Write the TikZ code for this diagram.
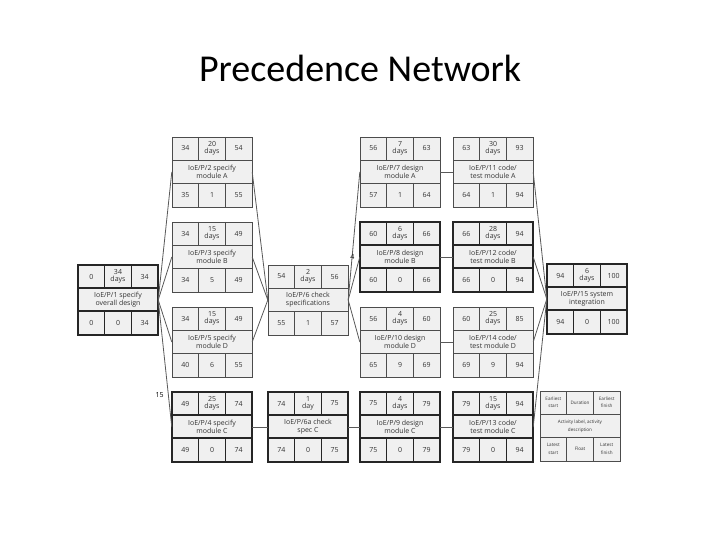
\documentclass[tikz,border=0pt]{standalone}
\usepackage{fontspec}
\setmainfont{Open Sans}
\newfontfamily\titlefont{Carlito}
\newcommand\legf{\fontsize{4.6}{5.2}\selectfont}
\begin{document}
\begin{tikzpicture}[x=1pt,y=-1pt,
  conn/.style={draw=black!65,line width=0.8pt},
  thin box/.style={draw=black!70,line width=0.7pt},
  crit box/.style={draw=black!85,line width=1.5pt},
  cell/.style={font=\fontsize{7}{7.5}\selectfont,text=black!80,align=center,inner sep=0pt},
  lab/.style={font=\fontsize{7}{8}\selectfont,text=black!80,align=center,inner sep=0pt}]
\useasboundingbox (0,0) rectangle (720,540);
\node[font=\titlefont\fontsize{38}{44}\selectfont] (title) at (360,68) {Precedence Network};
\newcommand\actbox[9]{%
  \node[rectangle,fill=black!6,minimum width=80pt,minimum height=70pt,inner sep=0pt] (#1) at (#2,#3) {};
  \draw[#1style] (#2-40,#3-35) rectangle (#2+40,#3+35)
     (#2-40,#3-12) -- (#2+40,#3-12) (#2-40,#3+11) -- (#2+40,#3+11)
     (#2-13.3,#3-35) -- (#2-13.3,#3-12) (#2+13.3,#3-35) -- (#2+13.3,#3-12)
     (#2-13.3,#3+11) -- (#2-13.3,#3+35) (#2+13.3,#3+11) -- (#2+13.3,#3+35);
  \node[cell] at (#2-26.7,#3-23.5) {#4};
  \node[cell] at (#2,#3-23.5) {#5};
  \node[cell] at (#2+26.7,#3-23.5) {#6};
  \node[lab] at (#2,#3) {#7};
  \node[cell] at (#2-26.7,#3+23) {#8};
  \node[cell] at (#2,#3+23) {#9};
}
\newcommand\lf[3]{\node[cell] at (#1+26.7,#2+23) {#3};}
\tikzset{%
 n1style/.style={crit box}, n2style/.style={thin box}, n3style/.style={thin box},
 n5style/.style={thin box}, n4style/.style={crit box}, n6style/.style={thin box},
 n6astyle/.style={crit box}, n7style/.style={thin box}, n8style/.style={crit box},
 n10style/.style={thin box}, n9style/.style={crit box}, n11style/.style={thin box},
 n12style/.style={crit box}, n14style/.style={thin box}, n13style/.style={crit box},
 n15style/.style={crit box}, legstyle/.style={thin box}}
\actbox{n1}{118}{300}{0}{34\\days}{34}{IoE/P/1 specify\\overall design}{0}{0}\lf{118}{300}{34}
\actbox{n2}{212}{172}{34}{20\\days}{54}{IoE/P/2 specify\\module A}{35}{1}\lf{212}{172}{55}
\actbox{n3}{212}{257}{34}{15\\days}{49}{IoE/P/3 specify\\module B}{34}{5}\lf{212}{257}{49}
\actbox{n5}{212}{342}{34}{15\\days}{49}{IoE/P/5 specify\\module D}{40}{6}\lf{212}{342}{55}
\actbox{n4}{212}{427}{49}{25\\days}{74}{IoE/P/4 specify\\module C}{49}{0}\lf{212}{427}{74}
\actbox{n6}{308}{300}{54}{2\\days}{56}{IoE/P/6 check\\specifications}{55}{1}\lf{308}{300}{57}
\actbox{n6a}{308}{427}{74}{1\\day}{75}{IoE/P/6a check\\spec C}{74}{0}\lf{308}{427}{75}
\actbox{n7}{400}{172}{56}{7\\days}{63}{IoE/P/7 design\\module A}{57}{1}\lf{400}{172}{64}
\actbox{n8}{400}{257}{60}{6\\days}{66}{IoE/P/8 design\\module B}{60}{0}\lf{400}{257}{66}
\actbox{n10}{400}{342}{56}{4\\days}{60}{IoE/P/10 design\\module D}{65}{9}\lf{400}{342}{69}
\actbox{n9}{400}{427}{75}{4\\days}{79}{IoE/P/9 design\\module C}{75}{0}\lf{400}{427}{79}
\actbox{n11}{493}{172}{63}{30\\days}{93}{IoE/P/11 code/\\test module A}{64}{1}\lf{493}{172}{94}
\actbox{n12}{493}{257}{66}{28\\days}{94}{IoE/P/12 code/\\test module B}{66}{0}\lf{493}{257}{94}
\actbox{n14}{493}{342}{60}{25\\days}{85}{IoE/P/14 code/\\test module D}{69}{9}\lf{493}{342}{94}
\actbox{n13}{493}{427}{79}{15\\days}{94}{IoE/P/13 code/\\test module C}{79}{0}\lf{493}{427}{94}
\actbox{n15}{587}{299}{94}{6\\days}{100}{IoE/P/15 system\\integration}{94}{0}\lf{587}{299}{100}
\actbox{leg}{580}{426}{\legf Earliest\\\legf start}{\legf Duration}{\legf Earliest\\\legf finish}{\legf Activity label, activity\\\legf description}{\legf Latest\\\legf start}{\legf Float}
\lf{580}{426}{\legf Latest\\\legf finish}
% connectors
\draw[conn] (n1.east) -- (n2.west);
\draw[conn] (n1.east) -- (n3.west);
\draw[conn] (n1.east) -- (n5.west);
\draw[conn] (n1.east) -- node[pos=0.75,left=1pt,font=\fontsize{7}{7}\selectfont] {15} (n4.west);
\draw[conn] (n2.east) -- (n6.west);
\draw[conn] (n3.east) -- (n6.west);
\draw[conn] (n5.east) -- (n6.west);
\draw[conn] (n6.east) -- (n7.west);
\draw[conn] (n6.east) -- node[pos=0.85,above left=0pt,font=\fontsize{7}{7}\selectfont] {4} (n8.west);
\draw[conn] (n6.east) -- (n10.west);
\draw[conn] (n7.east) -- (n11.west);
\draw[conn] (n8.east) -- (n12.west);
\draw[conn] (n10.east) -- (n14.west);
\draw[conn] (n4.east) -- (n6a.west);
\draw[conn] (n6a.east) -- (n9.west);
\draw[conn] (n9.east) -- (n13.west);
\draw[conn] (n11.east) -- (n15.west);
\draw[conn] (n12.east) -- (n15.west);
\draw[conn] (n14.east) -- (n15.west);
\draw[conn] (n13.east) -- (n15.west);
\end{tikzpicture}
\end{document}
